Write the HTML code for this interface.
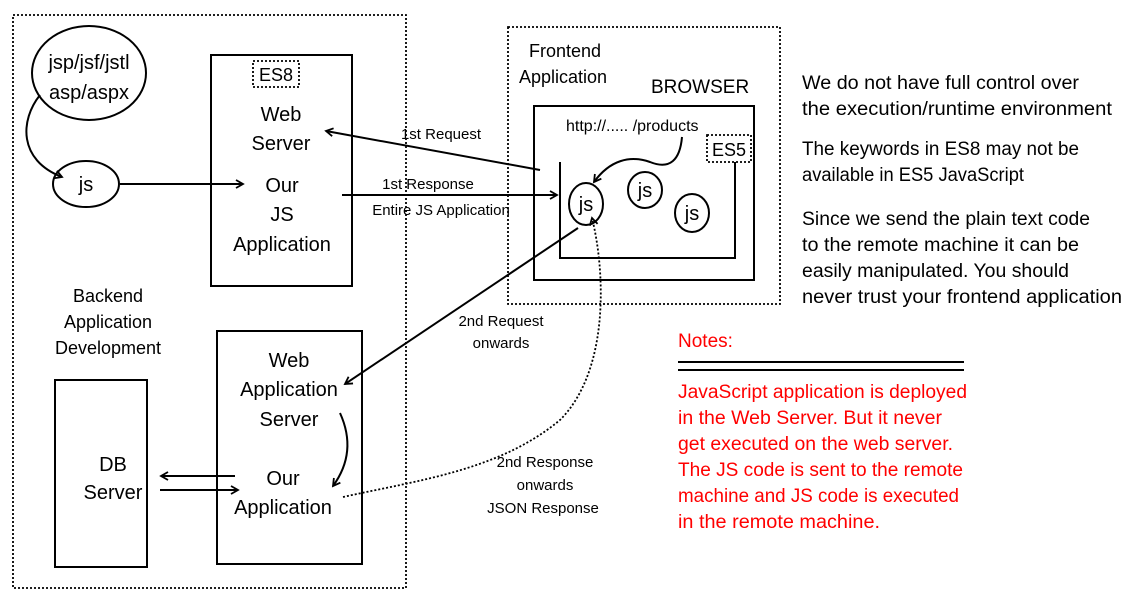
<!DOCTYPE html>
<html><head><meta charset="utf-8"><style>
html,body{margin:0;padding:0;background:#fff;}
svg{display:block;}
text{font-family:"Liberation Sans",sans-serif;fill:#000;}
text.r{fill:#f00;}
</style></head><body>
<svg width="1139" height="600" viewBox="0 0 1139 600" xmlns="http://www.w3.org/2000/svg">
<defs>
<marker id="a" markerWidth="10" markerHeight="10" refX="8" refY="5" orient="auto" markerUnits="userSpaceOnUse">
<path d="M1,1 L8,5 L1,9" fill="none" stroke="#000" stroke-width="1.8"/></marker>
</defs>
<g fill="none" stroke="#000">
<rect x="13" y="15" width="393" height="573" stroke-width="1.8" stroke-dasharray="2,2"/>
<rect x="508" y="27" width="272" height="277" stroke-width="1.8" stroke-dasharray="2,2"/>
<rect x="211" y="55" width="141" height="231" stroke-width="2"/>
<rect x="253" y="61" width="46" height="26" stroke-width="1.8" stroke-dasharray="2,2"/>
<rect x="217" y="331" width="145" height="233" stroke-width="2"/>
<rect x="55" y="380" width="92" height="187" stroke-width="2"/>
<rect x="534" y="106" width="220" height="174" stroke-width="2"/>
<path d="M560,162 V258 H735 V162" stroke-width="2"/>
<rect x="707" y="135" width="44" height="27" stroke-width="1.8" stroke-dasharray="2,2"/>
<ellipse cx="89" cy="73" rx="57" ry="47" stroke-width="2"/>
<ellipse cx="86" cy="184" rx="33" ry="23" stroke-width="2"/>
<ellipse cx="586" cy="204" rx="17" ry="21" stroke-width="2"/>
<ellipse cx="645" cy="190" rx="17" ry="18" stroke-width="2"/>
<ellipse cx="692" cy="213" rx="17" ry="19" stroke-width="2"/>
<path d="M40,95 C20,120 18,160 62,177" stroke-width="2" marker-end="url(#a)"/>
<path d="M120,184 H243" stroke-width="2" marker-end="url(#a)"/>
<path d="M540,170 L326,131" stroke-width="2" marker-end="url(#a)"/>
<path d="M342,195 H557" stroke-width="2" marker-end="url(#a)"/>
<path d="M578,228 L345,384" stroke-width="2" marker-end="url(#a)"/>
<path d="M343,497 C420,480 500,470 560,420 C610,370 605,270 592,218" stroke-width="1.8" stroke-dasharray="2,2" marker-end="url(#a)"/>
<path d="M340,413 C350,435 352,460 333,486" stroke-width="2" marker-end="url(#a)"/>
<path d="M235,476 H161" stroke-width="2" marker-end="url(#a)"/>
<path d="M160,490 H238" stroke-width="2" marker-end="url(#a)"/>
<path d="M682,137 C680,160 670,170 650,162 C630,155 610,160 594,182" stroke-width="2" marker-end="url(#a)"/>
<path d="M678,362 H964 M678,370 H964" stroke-width="2"/>
</g>
<g font-size="20" text-anchor="middle">
<text x="89" y="69">jsp/jsf/jstl</text>
<text x="89" y="99">asp/aspx</text>
<text x="86" y="191">js</text>
<text x="276" y="81" font-size="18">ES8</text>
<text x="281" y="121">Web</text>
<text x="281" y="150">Server</text>
<text x="282" y="192">Our</text>
<text x="282" y="221">JS</text>
<text x="282" y="251">Application</text>
<text x="108" y="302" font-size="18">Backend</text>
<text x="108" y="328" font-size="18">Application</text>
<text x="108" y="354" font-size="18">Development</text>
<text x="289" y="367">Web</text>
<text x="289" y="396">Application</text>
<text x="289" y="426">Server</text>
<text x="283" y="485">Our</text>
<text x="283" y="514">Application</text>
<text x="113" y="471">DB</text>
<text x="113" y="499">Server</text>
<text x="586" y="211">js</text>
<text x="645" y="197">js</text>
<text x="692" y="220">js</text>
<text x="729" y="156" font-size="18">ES5</text>
</g>
<g font-size="18">
<text x="529" y="57">Frontend</text>
<text x="519" y="83">Application</text>
<text x="651" y="93" font-size="19">BROWSER</text>
<text x="566" y="131" font-size="16">http://..... /products</text>
</g>
<g font-size="15" text-anchor="middle">
<text x="441" y="139">1st Request</text>
<text x="428" y="189">1st Response</text>
<text x="441" y="215">Entire JS Application</text>
<text x="501" y="326">2nd Request</text>
<text x="501" y="348">onwards</text>
<text x="545" y="467">2nd Response</text>
<text x="545" y="490">onwards</text>
<text x="543" y="513">JSON Response</text>
</g>
<g font-size="19" lengthAdjust="spacingAndGlyphs">
<text x="802" y="89" textLength="277" lengthAdjust="spacingAndGlyphs">We do not have full control over</text>
<text x="802" y="115" textLength="310" lengthAdjust="spacingAndGlyphs">the execution/runtime environment</text>
<text x="802" y="155" textLength="277" lengthAdjust="spacingAndGlyphs">The keywords in ES8 may not be</text>
<text x="802" y="181" textLength="222" lengthAdjust="spacingAndGlyphs">available in ES5 JavaScript</text>
<text x="802" y="225" textLength="288" lengthAdjust="spacingAndGlyphs">Since we send the plain text code</text>
<text x="802" y="251" textLength="277" lengthAdjust="spacingAndGlyphs">to the remote machine it can be</text>
<text x="802" y="277" textLength="267" lengthAdjust="spacingAndGlyphs">easily manipulated. You should</text>
<text x="802" y="303" textLength="320" lengthAdjust="spacingAndGlyphs">never trust your frontend application</text>
</g>
<g font-size="19">
<text class="r" x="678" y="347">Notes:</text>
<text class="r" x="678" y="398" textLength="289" lengthAdjust="spacingAndGlyphs">JavaScript application is deployed</text>
<text class="r" x="678" y="424" textLength="264" lengthAdjust="spacingAndGlyphs">in the Web Server. But it never</text>
<text class="r" x="678" y="450" textLength="275" lengthAdjust="spacingAndGlyphs">get executed on the web server.</text>
<text class="r" x="678" y="476" textLength="285" lengthAdjust="spacingAndGlyphs">The JS code is sent to the remote</text>
<text class="r" x="678" y="502" textLength="281" lengthAdjust="spacingAndGlyphs">machine and JS code is executed</text>
<text class="r" x="678" y="528" textLength="202" lengthAdjust="spacingAndGlyphs">in the remote machine.</text>
</g>
</svg>
</body></html>
